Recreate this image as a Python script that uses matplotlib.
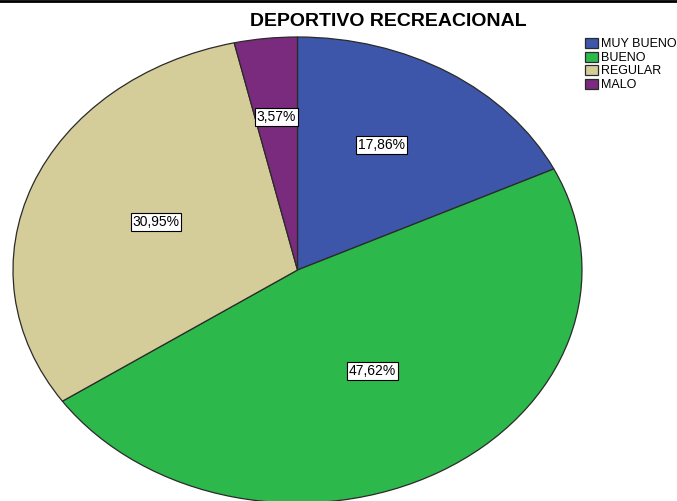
import matplotlib.pyplot as plt
from matplotlib.lines import Line2D

categories = ["MUY BUENO", "BUENO", "REGULAR", "MALO"]
percentages = [17.86, 47.62, 30.95, 3.57]
colors = ["#3D56A9", "#2DB84B", "#D4CD9A", "#7A2B7E"]
# label anchor points inside each wedge (pie data coords)
label_pos = [(0.295, 0.536), (0.263, -0.433), (-0.498, 0.206), (-0.074, 0.657)]

plt.rcParams["font.family"] = ["Liberation Sans", "DejaVu Sans"]

W, H = 677, 501
fig = plt.figure(figsize=(W / 100, H / 100), dpi=100)

# pie box in pixels: x 13..582, y 37..502 (from top)
x0, x1, y0, y1 = 13, 582, 37, 503
ax = fig.add_axes([x0 / W, (H - y1) / H, (x1 - x0) / W, (y1 - y0) / H])
wedges, _ = ax.pie(
    percentages,
    colors=colors,
    startangle=90,
    counterclock=False,
    radius=1,
    wedgeprops=dict(edgecolor="#2a2a2a", linewidth=0.9),
)
ax.set_aspect("auto")
ax.set_xlim(-1, 1)
ax.set_ylim(-1, 1)
ax.axis("off")

for val, (lx, ly) in zip(percentages, label_pos):
    ax.text(
        lx, ly, ("%.2f%%" % val).replace(".", ","),
        ha="center", va="center", fontsize=10, color="black",
        bbox=dict(boxstyle="square,pad=0.12", facecolor="white",
                  edgecolor="black", linewidth=0.8),
    )

fig.text(388 / W, 1 - 22 / H, "DEPORTIVO RECREACIONAL",
         ha="center", va="center", fontsize=14, fontweight="bold")

fig.legend(
    wedges, categories,
    loc="upper left", bbox_to_anchor=(585 / W, 1 - 38 / H),
    frameon=False, fontsize=9, handlelength=1.0, handleheight=0.85,
    handletextpad=0.25, labelspacing=0.1, borderpad=0, borderaxespad=0,
)

fig.add_artist(Line2D([0, 1], [1 - 0.5 / H, 1 - 0.5 / H], color="black",
                      linewidth=2, transform=fig.transFigure))

fig.savefig("out.png", dpi=100)
